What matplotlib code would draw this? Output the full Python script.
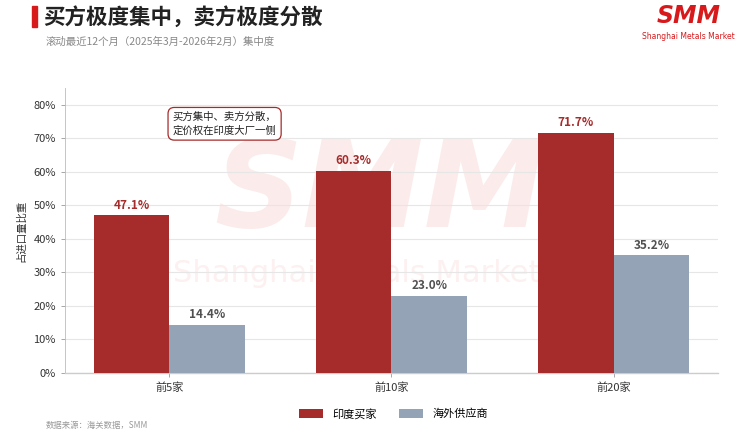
import matplotlib
matplotlib.use("Agg")
import matplotlib.pyplot as plt
import numpy as np
from matplotlib.patches import Rectangle

plt.rcParams['font.family'] = ['Noto Sans CJK SC', 'DejaVu Sans']

categories = ['前5家', '前10家', '前20家']
buyers = [47.1, 60.3, 71.7]
suppliers = [14.4, 23.0, 35.2]
series_names = ['印度买家', '海外供应商']
yticks = [0, 10, 20, 30, 40, 50, 60, 70, 80]

RED = '#A62B2B'
BLUE = '#95A3B7'

fig = plt.figure(figsize=(7.52, 4.44), dpi=100)
fig.patch.set_facecolor('white')

# background axes for watermark
bg = fig.add_axes([0, 0, 1, 1], zorder=0)
bg.set_xlim(0, 1)
bg.set_ylim(0, 1)
bg.axis('off')
bg.text(0.505, 0.565, 'SMM', fontsize=88, fontweight='bold', style='italic',
        color='#FCEBEB', ha='center', va='center', family='DejaVu Sans')
bg.text(0.475, 0.385, 'Shanghai Metals Market', fontsize=22, color='#FDF0F0',
        ha='center', va='center', family='DejaVu Sans')

ax = fig.add_axes([0.0864, 0.16, 0.8684, 0.642], zorder=1)
ax.set_facecolor('none')

x = np.arange(len(categories))
w = 0.34
b1 = ax.bar(x - w/2, buyers, w, color=RED, label=series_names[0], zorder=3)
b2 = ax.bar(x + w/2, suppliers, w, color=BLUE, label=series_names[1], zorder=3)

for xi, v in zip(x - w/2, buyers):
    ax.text(xi, v + 1.0, f'{v:.1f}%', ha='center', va='bottom', fontsize=8.5,
            fontweight='bold', color=RED, zorder=4)
for xi, v in zip(x + w/2, suppliers):
    ax.text(xi, v + 1.0, f'{v:.1f}%', ha='center', va='bottom', fontsize=8.5,
            fontweight='bold', color='#505050', zorder=4)

ax.set_xlim(-0.47, 2.47)
ax.set_ylim(0, 85)
ax.set_yticks(yticks)
ax.set_yticklabels([f'{t}%' for t in yticks])
ax.set_xticks(x)
ax.set_xticklabels(categories)
ax.tick_params(axis='both', labelsize=8, colors='#333333', length=3, width=0.6)
ax.tick_params(axis='both', color='#999999')
ax.grid(axis='y', color='#E6E6E6', linewidth=0.8, zorder=0)
ax.set_axisbelow(True)
for s in ['top', 'right']:
    ax.spines[s].set_visible(False)
ax.spines['left'].set_color('#BBBBBB')
ax.spines['bottom'].set_color('#CCCCCC')
ax.spines['left'].set_linewidth(0.6)
ax.spines['bottom'].set_linewidth(1.0)
ax.set_ylabel('占进口量比重', fontsize=7.5, color='#333333', labelpad=5)

# annotation box
ax.text(0.165, 0.915, '买方集中、卖方分散，\n定价权在印度大厂一侧', transform=ax.transAxes,
        fontsize=7.5, color='#222222', ha='left', va='top', linespacing=1.35,
        bbox=dict(boxstyle='round,pad=0.45,rounding_size=0.6', fc='white',
                  ec='#A62B2B', lw=0.9), zorder=5)

# legend
leg = fig.legend(handles=[b1, b2], labels=series_names, loc='center',
                 bbox_to_anchor=(0.523, 0.068), ncol=2, frameon=False,
                 fontsize=8, handlelength=2.2, handleheight=0.8,
                 columnspacing=2.0, handletextpad=0.8)

# title
fig.patches.append(Rectangle((32/752, 1-27/444), 5/752, 21/444,
                             transform=fig.transFigure, color='#D7191C'))
fig.text(43/752, 1-17/444, '买方极度集中，卖方极度分散', fontsize=15.5,
         fontweight='bold', color='#222222', ha='left', va='center')
fig.text(46/752, 1-42/444, '滚动最近12个月（2025年3月-2026年2月）集中度',
         fontsize=7.5, color='#888888', ha='left', va='center')

# logo
fig.text(689/752, 1-16/444, 'SMM', fontsize=17, fontweight='bold', style='italic',
         color='#D7191C', ha='center', va='center', family='DejaVu Sans')
fig.text(688/752, 1-36/444, 'Shanghai Metals Market', fontsize=5.5, color='#D7191C',
         ha='center', va='center', family='DejaVu Sans')

# source
fig.text(46/752, 1-425/444, '数据来源：海关数据，SMM', fontsize=6, color='#999999',
         ha='left', va='center')

fig.savefig('out.png', dpi=100, facecolor='white')
